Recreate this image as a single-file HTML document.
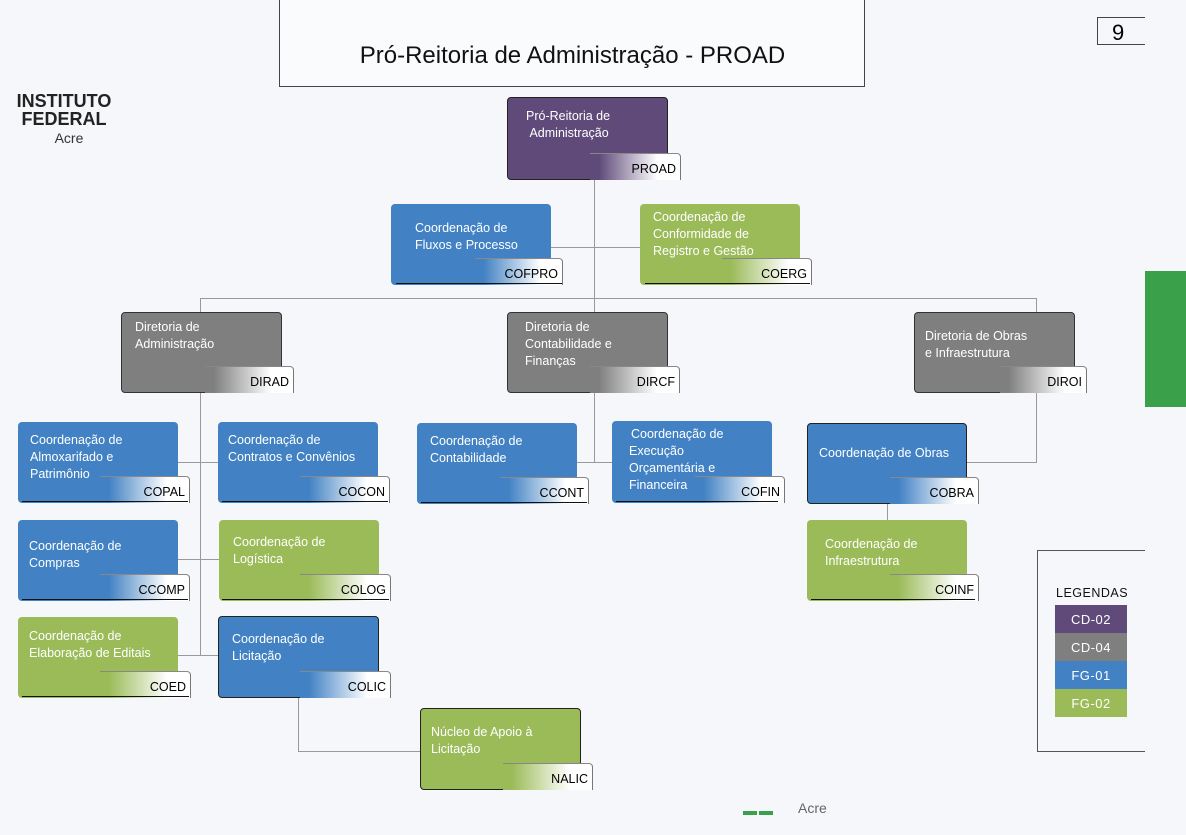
<!DOCTYPE html>
<html><head><meta charset="utf-8"><style>
body{margin:0;width:1186px;height:835px;background:#f5f7fb;position:relative;overflow:hidden;font-family:"Liberation Sans",sans-serif}
.n{position:absolute;border-radius:4px;box-sizing:border-box}
.t{position:absolute;color:#fff;font-size:12.5px;line-height:17px;white-space:nowrap}
.tab{position:absolute;height:27px;box-sizing:border-box;border-top:1px solid #888;border-right:1px solid #777;border-top-right-radius:4px;font-size:12.5px;color:#000;text-align:right;padding-right:4px;line-height:31px}
.ul{position:absolute;height:0;border-bottom:1.5px solid #111}
.h{position:absolute;height:1px;background:#999}
.v{position:absolute;width:1px;background:#999}
.lg{position:absolute;left:1055px;width:72px;height:28px;color:#fff;font-size:13px;text-align:center;line-height:30px;letter-spacing:.5px}
</style></head><body>
<div style="position:absolute;left:279px;top:-2px;width:586px;height:89px;border:1px solid #444;box-sizing:border-box;background:#fafbfd"></div>
<div style="position:absolute;left:279px;top:42px;width:587px;text-align:center;font-size:24px;color:#111">Pró-Reitoria de Administração - PROAD</div>
<div style="position:absolute;left:1097px;top:17px;width:48px;height:28px;border:1px solid #444;border-right:none;box-sizing:border-box;font-size:22px;line-height:30px;padding-left:14px">9</div>
<div style="position:absolute;left:1145px;top:271px;width:41px;height:136px;background:#3aa14a"></div>
<div style="position:absolute;left:15px;top:92px;font-weight:bold;font-size:18px;line-height:18px;color:#222;text-align:center;width:98px">INSTITUTO<br>FEDERAL</div>
<div style="position:absolute;left:17px;top:130px;width:104px;text-align:center;font-size:14px;color:#333">Acre</div>

<div class="v" style="left:594px;top:180px;height:132px"></div>
<div class="h" style="left:551px;top:247px;width:89px"></div>
<div class="h" style="left:200px;top:298px;width:837px"></div>
<div class="v" style="left:200px;top:298px;height:14px"></div>
<div class="v" style="left:1036px;top:298px;height:14px"></div>
<div class="v" style="left:200px;top:393px;height:263px"></div>
<div class="h" style="left:178px;top:462px;width:40px"></div>
<div class="h" style="left:178px;top:559px;width:41px"></div>
<div class="h" style="left:178px;top:655px;width:40px"></div>
<div class="v" style="left:594px;top:393px;height:70px"></div>
<div class="h" style="left:577px;top:462px;width:36px"></div>
<div class="v" style="left:1036px;top:393px;height:70px"></div>
<div class="h" style="left:967px;top:462px;width:70px"></div>
<div class="v" style="left:887px;top:504px;height:16px"></div>
<div class="v" style="left:298px;top:698px;height:54px"></div>
<div class="h" style="left:298px;top:751px;width:122px"></div>

<div class="n" style="left:507px;top:97px;width:161px;height:83px;background:#5f4a7a;border:1px solid #222"><div class="t" style="left:18px;top:10px">Pró-Reitoria de<br>&nbsp;Administração</div></div>
<div class="tab" style="left:590px;top:153px;width:91px;background:linear-gradient(90deg,#5f4a7a 10%,#fff 75%)">PROAD</div>

<div class="n" style="left:391px;top:204px;width:160px;height:81px;background:#4282c4"><div class="t" style="left:24px;top:16px">Coordenação de<br>Fluxos e Processo</div></div>
<div class="tab" style="left:475px;top:258px;width:88px;background:linear-gradient(90deg,#4282c4 10%,#fff 75%)">COFPRO</div>
<div class="ul" style="left:396px;top:283px;width:166px"></div>
<div class="n" style="left:640px;top:204px;width:160px;height:81px;background:#9bbb59"><div class="t" style="left:13px;top:5px">Coordenação de<br>Conformidade de<br>Registro e Gestão</div></div>
<div class="tab" style="left:722px;top:258px;width:90px;background:linear-gradient(90deg,#9bbb59 10%,#fff 75%)">COERG</div>
<div class="ul" style="left:645px;top:283px;width:165px"></div>

<div class="n" style="left:121px;top:312px;width:161px;height:81px;background:#7f7f7f;border:1px solid #333"><div class="t" style="left:13px;top:6px">Diretoria de<br>Administração</div></div>
<div class="tab" style="left:205px;top:366px;width:89px;background:linear-gradient(90deg,#7f7f7f 10%,#fff 75%)">DIRAD</div>
<div class="n" style="left:507px;top:312px;width:161px;height:81px;background:#7f7f7f;border:1px solid #333"><div class="t" style="left:17px;top:6px">Diretoria de<br>Contabilidade e<br>Finanças</div></div>
<div class="tab" style="left:590px;top:366px;width:90px;background:linear-gradient(90deg,#7f7f7f 10%,#fff 75%)">DIRCF</div>
<div class="n" style="left:914px;top:312px;width:161px;height:81px;background:#7f7f7f;border:1px solid #333"><div class="t" style="left:10px;top:15px">Diretoria de Obras<br>e Infraestrutura</div></div>
<div class="tab" style="left:1000px;top:366px;width:87px;background:linear-gradient(90deg,#7f7f7f 10%,#fff 75%)">DIROI</div>

<div class="n" style="left:18px;top:422px;width:160px;height:81px;background:#4282c4"><div class="t" style="left:12px;top:10px">Coordenação de<br>Almoxarifado e<br>Patrimônio</div></div>
<div class="tab" style="left:100px;top:476px;width:90px;background:linear-gradient(90deg,#4282c4 10%,#fff 75%)">COPAL</div>
<div class="ul" style="left:22px;top:501px;width:166px"></div>
<div class="n" style="left:218px;top:422px;width:160px;height:81px;background:#4282c4"><div class="t" style="left:10px;top:10px">Coordenação de<br>Contratos e Convênios</div></div>
<div class="tab" style="left:300px;top:476px;width:90px;background:linear-gradient(90deg,#4282c4 10%,#fff 75%)">COCON</div>
<div class="ul" style="left:222px;top:501px;width:166px"></div>
<div class="n" style="left:18px;top:520px;width:160px;height:81px;background:#4282c4"><div class="t" style="left:11px;top:18px">Coordenação de<br>Compras</div></div>
<div class="tab" style="left:100px;top:574px;width:90px;background:linear-gradient(90deg,#4282c4 10%,#fff 75%)">CCOMP</div>
<div class="ul" style="left:22px;top:599px;width:166px"></div>
<div class="n" style="left:219px;top:520px;width:160px;height:81px;background:#9bbb59"><div class="t" style="left:14px;top:14px">Coordenação de<br>Logística</div></div>
<div class="tab" style="left:300px;top:574px;width:91px;background:linear-gradient(90deg,#9bbb59 10%,#fff 75%)">COLOG</div>
<div class="ul" style="left:222px;top:599px;width:167px"></div>
<div class="n" style="left:18px;top:617px;width:160px;height:81px;background:#9bbb59"><div class="t" style="left:11px;top:11px">Coordenação de<br>Elaboração de Editais</div></div>
<div class="tab" style="left:100px;top:671px;width:91px;background:linear-gradient(90deg,#9bbb59 10%,#fff 75%)">COED</div>
<div class="ul" style="left:22px;top:696px;width:167px"></div>
<div class="n" style="left:218px;top:616px;width:161px;height:82px;background:#4282c4;border:1px solid #222"><div class="t" style="left:13px;top:14px">Coordenação de<br>Licitação</div></div>
<div class="tab" style="left:300px;top:671px;width:91px;background:linear-gradient(90deg,#4282c4 10%,#fff 75%)">COLIC</div>

<div class="n" style="left:417px;top:423px;width:160px;height:81px;background:#4282c4"><div class="t" style="left:13px;top:10px">Coordenação de<br>Contabilidade</div></div>
<div class="tab" style="left:500px;top:477px;width:89px;background:linear-gradient(90deg,#4282c4 10%,#fff 75%)">CCONT</div>
<div class="ul" style="left:421px;top:502px;width:166px"></div>
<div class="n" style="left:612px;top:421px;width:160px;height:82px;background:#4282c4"><div class="t" style="left:19px;top:5px">Coordenação de</div><div class="t" style="left:17px;top:22px">Execução<br>Orçamentária e<br>Financeira</div></div>
<div class="tab" style="left:695px;top:476px;width:90px;background:linear-gradient(90deg,#4282c4 10%,#fff 75%)">COFIN</div>
<div class="ul" style="left:616px;top:501px;width:162px"></div>
<div class="n" style="left:807px;top:423px;width:160px;height:81px;background:#4282c4;border:1px solid #222"><div class="t" style="left:11px;top:21px">Coordenação de Obras</div></div>
<div class="tab" style="left:890px;top:477px;width:89px;background:linear-gradient(90deg,#4282c4 10%,#fff 75%)">COBRA</div>
<div class="n" style="left:807px;top:520px;width:160px;height:81px;background:#9bbb59"><div class="t" style="left:18px;top:16px">Coordenação de<br>Infraestrutura</div></div>
<div class="tab" style="left:890px;top:574px;width:89px;background:linear-gradient(90deg,#9bbb59 10%,#fff 75%)">COINF</div>
<div class="ul" style="left:811px;top:599px;width:164px"></div>

<div class="n" style="left:420px;top:708px;width:161px;height:82px;background:#9bbb59;border:1px solid #222"><div class="t" style="left:10px;top:15px">Núcleo de Apoio à<br>Licitação</div></div>
<div class="tab" style="left:503px;top:763px;width:90px;background:linear-gradient(90deg,#9bbb59 10%,#fff 75%)">NALIC</div>

<div style="position:absolute;left:1037px;top:550px;width:108px;height:202px;border:1.5px solid #555;border-right:none;box-sizing:border-box"></div>
<div style="position:absolute;left:1056px;top:586px;font-size:12.5px;letter-spacing:.5px;color:#111">LEGENDAS</div>
<div class="lg" style="top:605px;background:#5f4a7a">CD-02</div>
<div class="lg" style="top:633px;background:#7f7f7f">CD-04</div>
<div class="lg" style="top:661px;background:#4282c4">FG-01</div>
<div class="lg" style="top:689px;background:#9bbb59">FG-02</div>

<div style="position:absolute;left:743px;top:811px;width:14px;height:4px;background:#3aa14a"></div>
<div style="position:absolute;left:759px;top:811px;width:14px;height:4px;background:#3aa14a"></div>
<div style="position:absolute;left:798px;top:800px;font-size:14px;color:#666">Acre</div>
</body></html>
